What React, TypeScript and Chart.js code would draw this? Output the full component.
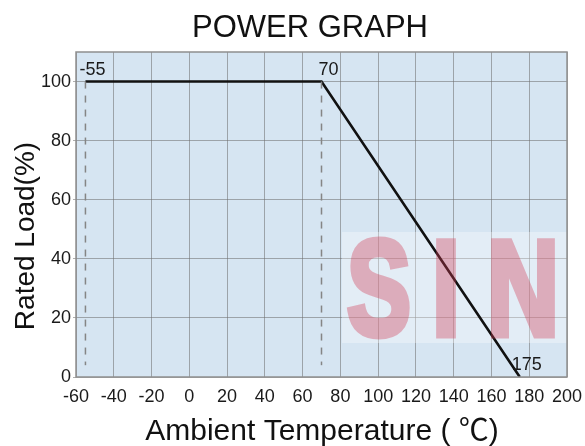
import React, { useEffect, useRef } from "react";
import { Chart, registerables } from "chart.js";

Chart.register(...registerables);

// ---- data ----
const curveTemps = [-55, 70, 175];
const curveLoads = [100, 100, 0];
const curveLabels = ["-55", "70", "175"];
const dashTemps = [-55, 70];
const dashTop = 100;
const dashBottom = 4;
const xTicks = [-60, -40, -20, 0, 20, 40, 60, 80, 100, 120, 140, 160, 180, 200];
const yTicks = [0, 20, 40, 60, 80, 100];
const xMin = -60;
const xMax = 200;
const yMin = 0;
const yMax = 110;
const titleText = "POWER GRAPH";
const xTitle = "Ambient Temperature ( \u2103)";
const yTitle = "Rated Load(%)";
const watermarkLetters = ["S", "I", "N", "E"];

const FONT = '"Liberation Sans", Arial, "Noto Sans CJK SC", sans-serif';

const decorPlugin = {
  id: "decor",
  beforeDraw(chart: any) {
    const { ctx, chartArea: a } = chart;
    ctx.save();
    ctx.fillStyle = "#ffffff";
    ctx.fillRect(0, 0, chart.width, chart.height);
    ctx.fillStyle = "#d6e5f2";
    ctx.fillRect(a.left, a.top, a.right - a.left, a.bottom - a.top);
    ctx.restore();
  },
  beforeDatasetsDraw(chart: any) {
    const { ctx, chartArea: a } = chart;
    ctx.save();
    ctx.fillStyle = "rgba(255,255,255,0.32)";
    ctx.fillRect(342, 232, a.right - 342, 111);
    ctx.restore();
  },
  afterDatasetsDraw(chart: any) {
    const { ctx, chartArea: a, scales } = chart;
    const xs = scales.x;
    const ys = scales.y;
    ctx.save();
    ctx.strokeStyle = "#8f8f8f";
    ctx.lineWidth = 1.5;
    ctx.strokeRect(a.left, a.top, a.right - a.left, a.bottom - a.top);
    ctx.fillStyle = "#1a1a1a";
    ctx.font = "18px " + FONT;
    ctx.textAlign = "center";
    ctx.textBaseline = "alphabetic";
    curveTemps.forEach((t, i) => {
      const px = xs.getPixelForValue(t);
      const py = ys.getPixelForValue(curveLoads[i]);
      ctx.fillText(curveLabels[i], px + 7, py - 7);
    });
    ctx.restore();
  },
  afterDraw(chart: any) {
    const { ctx } = chart;
    ctx.save();
    ctx.fillStyle = "#111111";
    ctx.font = "31px " + FONT;
    ctx.textAlign = "center";
    ctx.textBaseline = "alphabetic";
    ctx.fillText(titleText, 310, 37);
    ctx.font = "30px " + FONT;
    ctx.fillText(xTitle, 322, 440);
    ctx.save();
    ctx.translate(34, 236);
    ctx.rotate(-Math.PI / 2);
    ctx.font = "28px " + FONT;
    ctx.fillText(yTitle, 0, 0);
    ctx.restore();

    // watermark
    const off = document.createElement("canvas");
    off.width = chart.width;
    off.height = chart.height;
    const o = off.getContext("2d")!;
    o.fillStyle = "#d23c55";
    o.strokeStyle = "#d23c55";
    o.lineWidth = 7;
    o.lineJoin = "miter";
    o.font = "bold 136px " + FONT;
    o.textAlign = "left";
    o.textBaseline = "alphabetic";
    const lx = [347, 432, 487, 586];
    const lw = [64, 28, 72, 64];
    watermarkLetters.forEach((ch, i) => {
      o.fillText(ch, lx[i], 335, lw[i]);
      o.strokeText(ch, lx[i], 335, lw[i]);
    });
    ctx.globalAlpha = 0.36;
    ctx.drawImage(off, 0, 0);
    ctx.restore();
  },
};

export default function App() {
  const ref = useRef<HTMLCanvasElement>(null);

  useEffect(() => {
    document.body.style.margin = "0";
    const canvas = ref.current!;
    const curve = curveTemps.map((t, i) => ({ x: t, y: curveLoads[i] }));
    const dashSets = dashTemps.map((t) => ({
      data: [
        { x: t, y: dashTop },
        { x: t, y: dashBottom },
      ],
      borderColor: "#858585",
      borderWidth: 1.5,
      borderDash: [7, 7],
      pointRadius: 0,
      fill: false,
    }));
    const chart = new Chart(canvas, {
      type: "line",
      data: {
        datasets: [
          ...dashSets,
          {
            data: curve,
            borderColor: "#111111",
            borderWidth: 2.6,
            pointRadius: 0,
            fill: false,
            tension: 0,
          },
        ],
      } as any,
      options: {
        responsive: false,
        animation: false,
        devicePixelRatio: 1,
        layout: { padding: { top: 52, right: 18, left: 0, bottom: 0 } },
        plugins: {
          legend: { display: false },
          title: { display: false },
          tooltip: { enabled: false },
        },
        scales: {
          x: {
            type: "linear",
            min: xMin,
            max: xMax,
            afterBuildTicks: (s: any) => {
              s.ticks = xTicks.map((v) => ({ value: v }));
            },
            afterFit: (s: any) => {
              s.height = 69;
              s.paddingLeft = 0;
              s.paddingRight = 0;
            },
            grid: {
              color: "rgba(110,110,110,0.55)",
              lineWidth: 1,
              drawTicks: false,
            },
            border: { display: false },
            ticks: {
              padding: 9,
              color: "#1a1a1a",
              font: { size: 18, family: FONT },
              maxRotation: 0,
              autoSkip: false,
            },
          },
          y: {
            type: "linear",
            min: yMin,
            max: yMax,
            afterBuildTicks: (s: any) => {
              s.ticks = yTicks.map((v) => ({ value: v }));
            },
            afterFit: (s: any) => {
              s.width = 76;
              s.paddingTop = 0;
              s.paddingBottom = 0;
            },
            grid: {
              color: "rgba(110,110,110,0.55)",
              lineWidth: 1,
              drawTicks: true,
              tickLength: 3,
            },
            border: { display: false },
            ticks: {
              padding: 2,
              color: "#1a1a1a",
              font: { size: 18, family: FONT },
              autoSkip: false,
            },
          },
        },
      } as any,
      plugins: [decorPlugin],
    });
    return () => chart.destroy();
  }, []);

  return (
    <div style={{ position: "absolute", left: 0, top: 0, width: 585, height: 446 }}>
      <canvas ref={ref} width={585} height={446} />
    </div>
  );
}
